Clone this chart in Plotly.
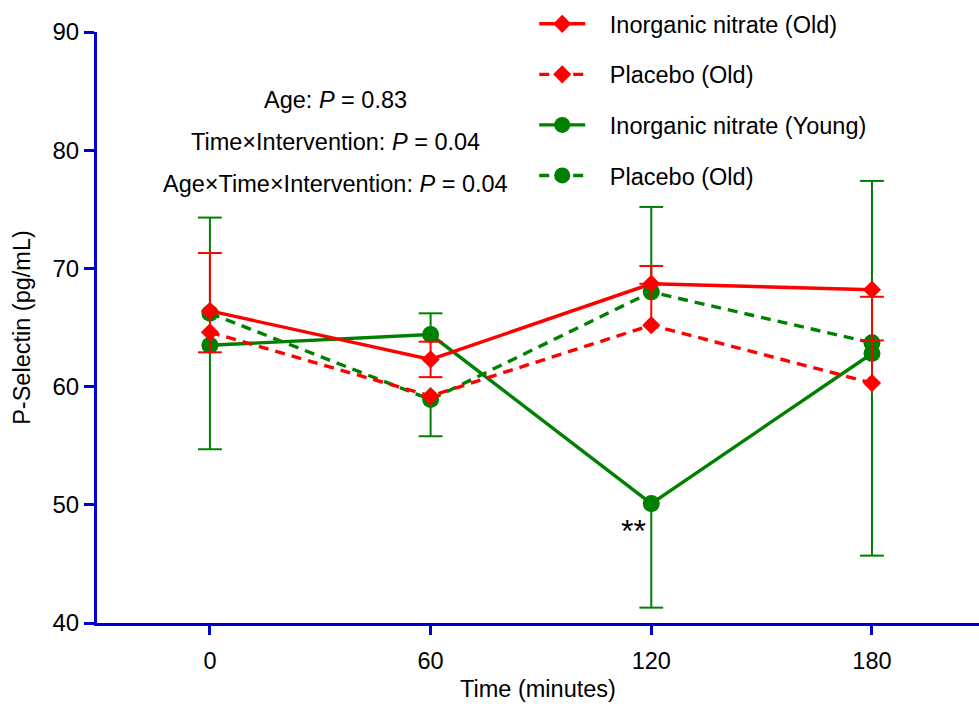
import plotly.graph_objects as go

# Sampling times (minutes)
times = [0, 60, 120, 180]

# Mean P-Selectin (pg/mL) per group
nitrate_old = [66.4, 62.3, 68.7, 68.2]
placebo_old = [64.6, 59.2, 65.2, 60.3]
nitrate_young = [63.5, 64.4, 50.1, 62.8]
placebo_old_g = [66.2, 58.9, 68.0, 63.7]

# One-sided error bars (upper / lower)
nitrate_old_up = [4.9, 1.5, 1.5, 0.0]
nitrate_old_dn = [3.5, 1.5, 0.0, 4.3]
placebo_old_up = [0.0, 0.0, 3.5, 7.3]
placebo_old_dn = [0.0, 0.0, 0.0, 0.0]
nitrate_young_up = [0.0, 1.8, 0.0, 0.0]
nitrate_young_dn = [8.8, 0.0, 8.8, 17.1]
placebo_old_g_up = [8.1, 0.0, 7.2, 13.7]
placebo_old_g_dn = [0.0, 3.1, 0.0, 0.0]

stats_lines = [
    "Age: <i>P</i> = 0.83",
    "Time×Intervention: <i>P</i> = 0.04",
    "Age×Time×Intervention: <i>P</i> = 0.04",
]

RED = "#FF0000"
GREEN = "#008000"
AXIS = "#0000CC"
FONT = "Liberation Sans, Arial, sans-serif"
PAD = "\u00a0\u00a0\u00a0"  # gap between legend sample and label

fig = go.Figure()


def add_errors(x, y, up, dn, color):
    seg_x, seg_y, cap_x, cap_y = [], [], [], []
    for xi, yi, u, d in zip(x, y, up, dn):
        for e in (u, -d):
            if e != 0:
                seg_x += [xi, xi, None]
                seg_y += [yi, yi + e, None]
                cap_x.append(xi)
                cap_y.append(yi + e)
    fig.add_trace(go.Scatter(x=seg_x, y=seg_y, mode="lines",
                             line=dict(color=color, width=2),
                             showlegend=False, hoverinfo="skip"))
    fig.add_trace(go.Scatter(x=cap_x, y=cap_y, mode="markers",
                             marker=dict(symbol="line-ew", size=17,
                                         line=dict(color=color, width=2)),
                             showlegend=False, hoverinfo="skip"))


def add_series(name, y, color, dash, symbol, size, group, rank):
    fig.add_trace(go.Scatter(
        x=times, y=y, name=PAD + name, mode="lines+markers",
        line=dict(color=color, width=3.4, dash=dash),
        marker=dict(symbol=symbol, size=size, color=color),
        legendgroup=group, legendrank=rank,
    ))


add_errors(times, placebo_old_g, placebo_old_g_up, placebo_old_g_dn, GREEN)
add_series("Placebo (Old)", placebo_old_g, GREEN, "10px,7px", "circle", 17, "d", 4)
add_errors(times, nitrate_young, nitrate_young_up, nitrate_young_dn, GREEN)
add_series("Inorganic nitrate (Young)", nitrate_young, GREEN, "solid", "circle", 17, "c", 3)
add_errors(times, placebo_old, placebo_old_up, placebo_old_dn, RED)
add_series("Placebo (Old)", placebo_old, RED, "10px,7px", "diamond", 14, "b", 2)
add_errors(times, nitrate_old, nitrate_old_up, nitrate_old_dn, RED)
add_series("Inorganic nitrate (Old)", nitrate_old, RED, "solid", "diamond", 14, "a", 1)

for i, txt in enumerate(stats_lines):
    fig.add_annotation(x=0.27, xref="paper", y=1.0 - (68 + 42 * i) / 591, yref="paper",
                       text=txt, showarrow=False, xanchor="center", yanchor="middle",
                       font=dict(family=FONT, size=23.5, color="black"))

# significance marker under the young nitrate point at 120 min
fig.add_annotation(x=times[2], y=nitrate_young[2], text="**", showarrow=False,
                   xanchor="right", yanchor="top", xshift=-3, yshift=-7,
                   font=dict(family=FONT, size=32, color="black"))

fig.update_layout(
    width=979, height=709,
    margin=dict(l=97, r=0, t=32, b=86, autoexpand=False),
    plot_bgcolor="white", paper_bgcolor="white",
    font=dict(family=FONT, size=23.5, color="black"),
    showlegend=True,
    legend=dict(x=0.4957, y=1 + 30 / 591, xanchor="left", yanchor="top",
                bgcolor="rgba(0,0,0,0)", font=dict(family=FONT, size=23.5),
                tracegroupgap=17, itemwidth=46, traceorder="grouped"),
    xaxis=dict(range=[-30.7, 209.1], tickvals=times, ticktext=[str(t) for t in times],
               showgrid=False, zeroline=False, showline=True, linecolor=AXIS, linewidth=3,
               ticks="outside", tickcolor=AXIS, tickwidth=3, ticklen=9,
               ticklabelstandoff=6, tickfont=dict(family=FONT, size=23.5),
               title=dict(text="Time (minutes)", font=dict(family=FONT, size=23.5), standoff=8)),
    yaxis=dict(range=[40, 90], tickvals=[40, 50, 60, 70, 80, 90],
               showgrid=False, zeroline=False, showline=True, linecolor=AXIS, linewidth=3,
               ticks="outside", tickcolor=AXIS, tickwidth=3, ticklen=10,
               tickfont=dict(family=FONT, size=24),
               title=dict(text="P-Selectin (pg/mL)", font=dict(family=FONT, size=23.5), standoff=16)),
)

fig.write_html("out.html")
